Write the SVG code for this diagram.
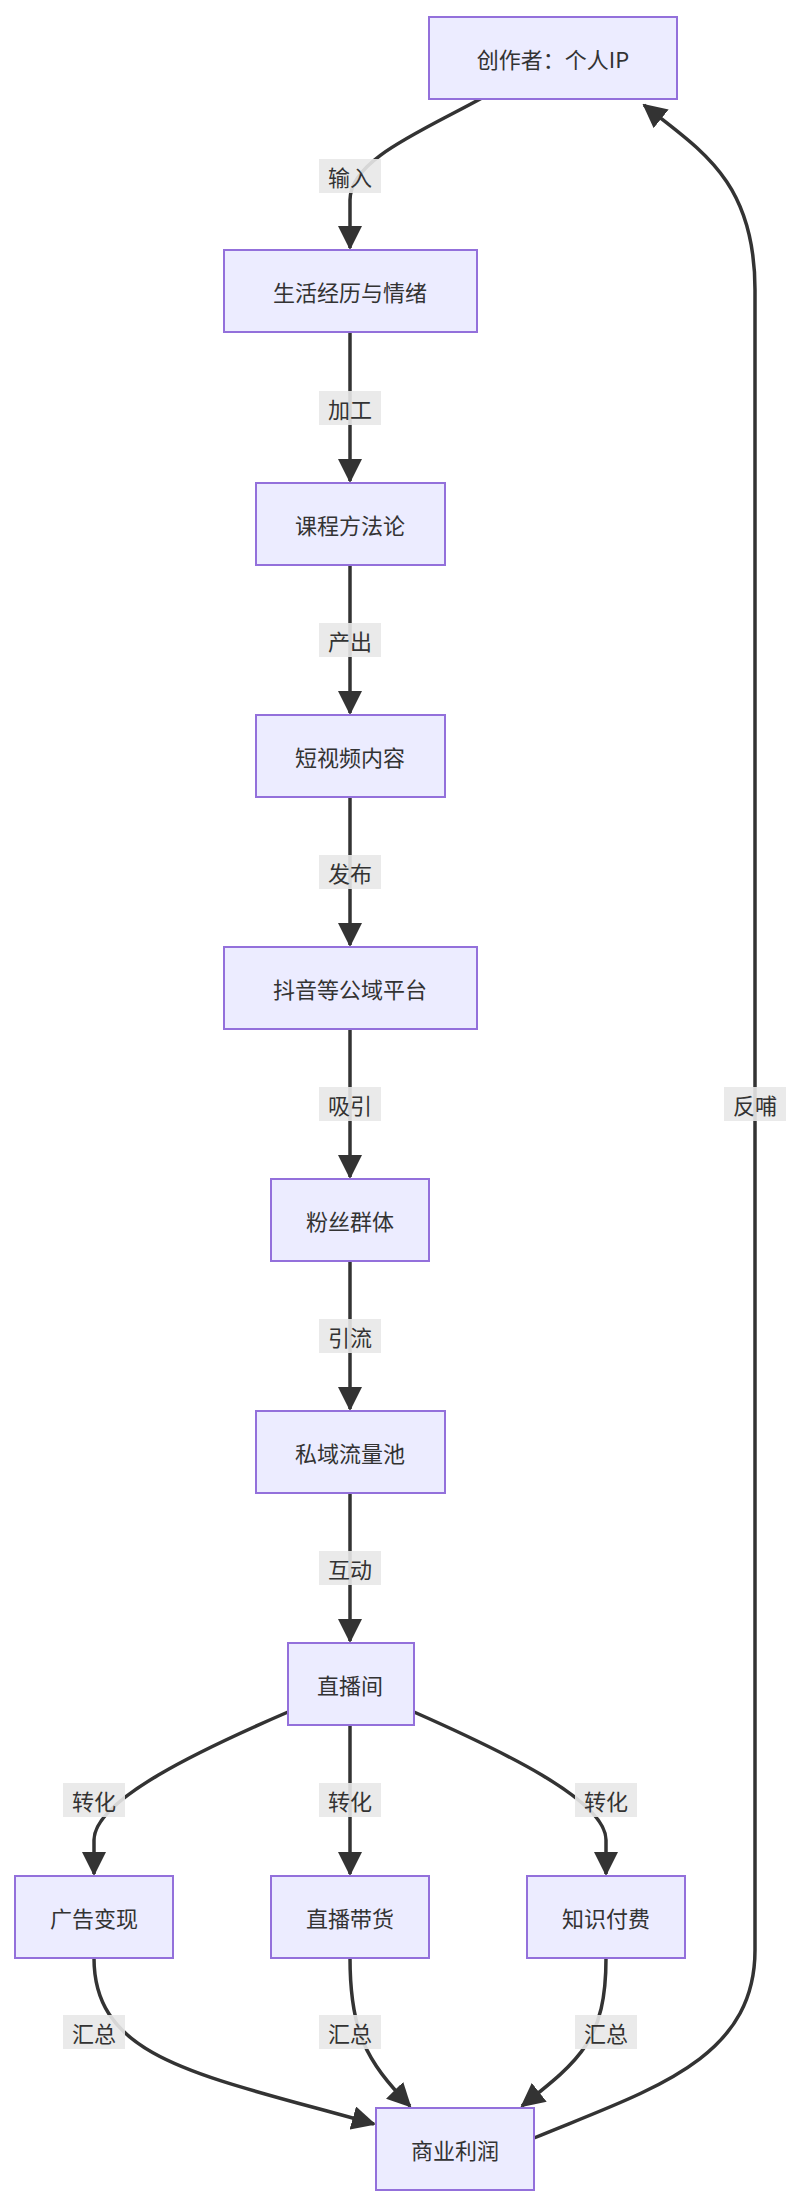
<svg xmlns="http://www.w3.org/2000/svg" width="808" height="2206" viewBox="0 0 808 2206">
<style>
.n rect{fill:#ECECFF;stroke:#9370DB;stroke-width:2}
.n text,.l text{font-family:"Noto Sans CJK SC","Liberation Sans",sans-serif;font-size:22px;fill:#333;text-anchor:middle;dominant-baseline:central}
.e path{fill:none;stroke:#333;stroke-width:3.5}
.l rect{fill:#e8e8e8;opacity:0.9}
</style>
<defs><marker id="a" markerUnits="userSpaceOnUse" markerWidth="24" markerHeight="24" viewBox="0 0 12 12" refX="11" refY="6" orient="auto"><path d="M0,0L12,6L0,12z" fill="#333"/></marker></defs>
<rect width="808" height="2206" fill="#fff"/>
<g class="e">
<path d="M482,98 C420,132 350,160 350,200 L350,248" marker-end="url(#a)"/>
<path d="M350,332 L350,481" marker-end="url(#a)"/>
<path d="M350,565 L350,713" marker-end="url(#a)"/>
<path d="M350,797 L350,945" marker-end="url(#a)"/>
<path d="M350,1029 L350,1177" marker-end="url(#a)"/>
<path d="M350,1261 L350,1409" marker-end="url(#a)"/>
<path d="M350,1493 L350,1641" marker-end="url(#a)"/>
<path d="M288,1712 C200,1750 94,1800 94,1840 L94,1874" marker-end="url(#a)"/>
<path d="M350,1725 L350,1874" marker-end="url(#a)"/>
<path d="M414,1712 C500,1750 606,1800 606,1840 L606,1874" marker-end="url(#a)"/>
<path d="M94,1958 C94,2060 200,2075 374,2124" marker-end="url(#a)"/>
<path d="M350,1958 C350,2030 365,2060 410,2106" marker-end="url(#a)"/>
<path d="M606,1958 C606,2040 580,2060 522,2106" marker-end="url(#a)"/>
<path d="M534,2138 C650,2090 755,2060 755,1950 L755,290 C755,180 700,150 644,105" marker-end="url(#a)"/>
</g>
<g class="l">
<g><rect x="319" y="159" width="62" height="34"/><text x="350" y="176">输入</text></g>
<g><rect x="319" y="391" width="62" height="34"/><text x="350" y="408">加工</text></g>
<g><rect x="319" y="623" width="62" height="34"/><text x="350" y="640">产出</text></g>
<g><rect x="319" y="855" width="62" height="34"/><text x="350" y="872">发布</text></g>
<g><rect x="319" y="1087" width="62" height="34"/><text x="350" y="1104">吸引</text></g>
<g><rect x="319" y="1319" width="62" height="34"/><text x="350" y="1336">引流</text></g>
<g><rect x="319" y="1551" width="62" height="34"/><text x="350" y="1568">互动</text></g>
<g><rect x="63" y="1783" width="62" height="34"/><text x="94" y="1800">转化</text></g>
<g><rect x="319" y="1783" width="62" height="34"/><text x="350" y="1800">转化</text></g>
<g><rect x="575" y="1783" width="62" height="34"/><text x="606" y="1800">转化</text></g>
<g><rect x="63" y="2015" width="62" height="34"/><text x="94" y="2032">汇总</text></g>
<g><rect x="319" y="2015" width="62" height="34"/><text x="350" y="2032">汇总</text></g>
<g><rect x="575" y="2015" width="62" height="34"/><text x="606" y="2032">汇总</text></g>
<g><rect x="724" y="1087" width="62" height="34"/><text x="755" y="1104">反哺</text></g>
</g>
<g id="n1" class="n"><rect x="429" y="17" width="248" height="82"/><text x="553" y="58">创作者：个人IP</text></g>
<g id="n2" class="n"><rect x="224" y="250" width="253" height="82"/><text x="350" y="291">生活经历与情绪</text></g>
<g id="n3" class="n"><rect x="256" y="483" width="189" height="82"/><text x="350" y="524">课程方法论</text></g>
<g id="n4" class="n"><rect x="256" y="715" width="189" height="82"/><text x="350" y="756">短视频内容</text></g>
<g id="n5" class="n"><rect x="224" y="947" width="253" height="82"/><text x="350" y="988">抖音等公域平台</text></g>
<g id="n6" class="n"><rect x="271" y="1179" width="158" height="82"/><text x="350" y="1220">粉丝群体</text></g>
<g id="n7" class="n"><rect x="256" y="1411" width="189" height="82"/><text x="350" y="1452">私域流量池</text></g>
<g id="n8" class="n"><rect x="288" y="1643" width="126" height="82"/><text x="350" y="1684">直播间</text></g>
<g id="n9" class="n"><rect x="15" y="1876" width="158" height="82"/><text x="94" y="1917">广告变现</text></g>
<g id="n10" class="n"><rect x="271" y="1876" width="158" height="82"/><text x="350" y="1917">直播带货</text></g>
<g id="n11" class="n"><rect x="527" y="1876" width="158" height="82"/><text x="606" y="1917">知识付费</text></g>
<g id="n12" class="n"><rect x="376" y="2108" width="158" height="82"/><text x="455" y="2149">商业利润</text></g>
</svg>
